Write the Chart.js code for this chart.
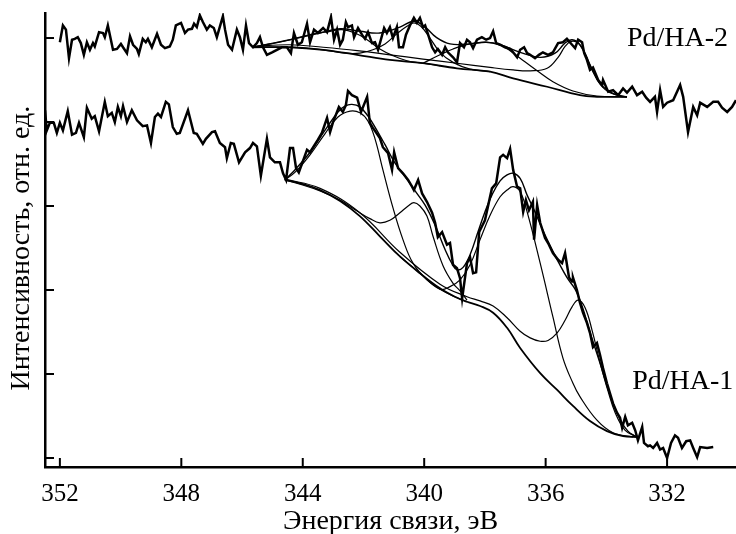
<!DOCTYPE html>
<html>
<head>
<meta charset="utf-8">
<script src="https://cdn.jsdelivr.net/npm/chart.js@4"></script>
<style>
  html, body { margin: 0; padding: 0; background: #fff; }
</style>
</head>
<body>
<canvas id="xps" width="736" height="534"></canvas>
<script>
// Pd 3d spectra, binding energy (eV) vs intensity (arb. units)
const xTicks = [352, 348, 344, 340, 336, 332];
const yTicks = [0, 1, 2, 3, 4, 5];

// Pd/HA-1 measured
const ha1Energy = [
  352.49, 352.43, 352.33, 352.20, 352.10, 352.00, 351.90, 351.74, 351.60, 351.47,
  351.37, 351.21, 351.11, 350.95, 350.85, 350.71, 350.52, 350.42, 350.29, 350.19,
  350.09, 349.99, 349.92, 349.79, 349.63, 349.46, 349.27, 349.13, 349.00, 348.87,
  348.77, 348.67, 348.51, 348.41, 348.28, 348.15, 348.05, 347.78, 347.59, 347.49,
  347.29, 347.19, 346.99, 346.89, 346.73, 346.56, 346.50, 346.37, 346.27, 346.10,
  345.90, 345.74, 345.64, 345.51, 345.38, 345.18, 345.08, 344.92, 344.75, 344.65,
  344.55, 344.42, 344.32, 344.22, 344.13, 343.86, 343.76, 343.50, 343.37, 343.20,
  343.10, 343.01, 342.81, 342.68, 342.58, 342.51, 342.38, 342.21, 342.08, 341.88,
  341.79, 341.69, 341.46, 341.36, 341.19, 341.06, 340.99, 340.86, 340.70, 340.53,
  340.40, 340.34, 340.20, 340.07, 339.91, 339.74, 339.64, 339.55, 339.41, 339.25,
  339.15, 339.05, 338.92, 338.82, 338.75, 338.59, 338.49, 338.39, 338.29, 338.19,
  338.00, 337.77, 337.63, 337.50, 337.40, 337.27, 337.17, 337.07, 336.94, 336.84,
  336.74, 336.65, 336.55, 336.42, 336.38, 336.28, 336.18, 336.02, 335.92, 335.76,
  335.59, 335.46, 335.36, 335.23, 335.13, 335.10, 334.97, 334.87, 334.77, 334.64,
  334.54, 334.44, 334.31, 334.21, 334.11, 333.98, 333.88, 333.78, 333.65, 333.55,
  333.48, 333.38, 333.29, 333.15, 333.05, 332.96, 332.82, 332.76, 332.63, 332.56,
  332.46, 332.33, 332.23, 332.13, 332.00, 331.87, 331.74, 331.64, 331.51, 331.37,
  331.24, 331.14, 331.01, 330.91, 330.68, 330.48
];
const ha1Counts = [
  4.14, 3.90, 3.99, 3.99, 3.87, 3.99, 3.90, 4.13, 3.85, 3.87,
  3.99, 3.82, 4.17, 4.04, 4.07, 3.89, 4.24, 4.07, 4.11, 4.00,
  4.18, 4.07, 4.19, 4.00, 4.14, 4.02, 3.95, 3.96, 3.75, 4.06,
  4.10, 4.06, 4.24, 4.21, 3.94, 3.86, 3.87, 4.14, 3.87, 3.86,
  3.74, 3.80, 3.88, 3.89, 3.75, 3.70, 3.57, 3.75, 3.74, 3.52,
  3.64, 3.69, 3.75, 3.71, 3.36, 3.80, 3.58, 3.52, 3.52, 3.39,
  3.31, 3.69, 3.69, 3.45, 3.40, 3.67, 3.64, 3.79, 3.87, 4.05,
  3.88, 3.99, 4.18, 4.12, 4.20, 4.37, 4.32, 4.29, 4.12, 4.30,
  3.99, 3.93, 3.81, 3.70, 3.63, 3.43, 3.64, 3.45, 3.39, 3.31,
  3.23, 3.19, 3.31, 3.15, 3.05, 2.92, 2.80, 2.63, 2.69, 2.54,
  2.56, 2.30, 2.26, 2.14, 1.90, 2.32, 2.39, 2.20, 2.21, 2.69,
  2.83, 3.21, 3.27, 3.58, 3.61, 3.57, 3.68, 3.43, 3.23, 3.21,
  2.93, 3.07, 2.95, 3.05, 2.60, 3.01, 2.80, 2.62, 2.56, 2.44,
  2.36, 2.32, 2.44, 2.15, 2.10, 2.15, 2.00, 1.85, 1.73, 1.61,
  1.49, 1.32, 1.37, 1.23, 1.07, 0.89, 0.77, 0.65, 0.54, 0.48,
  0.36, 0.49, 0.39, 0.42, 0.33, 0.21, 0.37, 0.18, 0.14, 0.15,
  0.12, 0.18, 0.10, 0.12, 0.00, 0.18, 0.27, 0.24, 0.12, 0.20,
  0.21, 0.12, 0.01, 0.13, 0.12, 0.13
];

// Pd/HA-1 fit: background, components, envelope
const ha1BgEnergy = [344.59, 344.09, 343.43, 342.77, 342.12, 341.46, 340.80, 340.14, 339.48, 338.99, 338.59,
  338.16, 337.73, 337.27, 336.84, 336.18, 335.62, 335.10, 334.54, 333.98, 333.45, 332.99];
const ha1BgCounts = [3.31, 3.27, 3.19, 3.06, 2.88, 2.64, 2.40, 2.20, 2.02, 1.92, 1.86,
  1.81, 1.73, 1.55, 1.31, 1.01, 0.81, 0.62, 0.44, 0.32, 0.26, 0.25];

const ha1P1Energy = [344.59, 344.26, 343.76, 343.27, 342.84, 342.44, 342.12, 341.85, 341.62, 341.36, 341.03,
  340.70, 340.37, 339.91, 339.48, 338.99, 338.59];
const ha1P1Counts = [3.31, 3.40, 3.61, 3.86, 4.06, 4.13, 4.11, 4.01, 3.80, 3.43, 2.98,
  2.60, 2.32, 2.12, 2.01, 1.92, 1.86];

const ha1P2Energy = [344.59, 344.09, 343.43, 342.77, 342.21, 341.79, 341.46, 341.13, 340.80, 340.53, 340.34,
  340.14, 339.91, 339.71, 339.38, 339.05, 338.82, 338.59];
const ha1P2Counts = [3.31, 3.26, 3.18, 3.07, 2.94, 2.85, 2.80, 2.83, 2.92, 3.00, 3.04,
  3.00, 2.88, 2.64, 2.29, 2.08, 1.99, 1.88];

const ha1P3Energy = [340.80, 340.14, 339.48, 339.15, 338.82, 338.49, 338.16, 337.83, 337.50, 337.27, 337.07,
  336.84, 336.61, 336.18, 335.76, 335.43, 335.10, 334.87, 334.31, 333.78, 333.12];
const ha1P3Counts = [2.40, 2.20, 2.01, 2.04, 2.12, 2.30, 2.60, 2.89, 3.11, 3.19, 3.23,
  3.17, 2.93, 2.32, 1.68, 1.19, 0.89, 0.73, 0.45, 0.30, 0.25];

const ha1P4Energy = [344.59, 343.43, 342.12, 340.80, 339.48, 338.59, 338.16, 337.73, 337.27, 336.84, 336.51,
  336.18, 335.92, 335.62, 335.36, 335.13, 334.93, 334.70, 334.47, 334.21, 333.94, 333.71, 333.38, 332.99];
const ha1P4Counts = [3.32, 3.21, 2.92, 2.45, 2.07, 1.92, 1.87, 1.81, 1.67, 1.51, 1.43,
  1.39, 1.40, 1.49, 1.64, 1.80, 1.88, 1.79, 1.52, 1.14, 0.79, 0.54, 0.33, 0.25];

const ha1SumEnergy = [344.59, 344.26, 343.76, 343.27, 342.84, 342.61, 342.38, 342.12, 341.85, 341.62, 341.29,
  340.96, 340.63, 340.30, 339.97, 339.64, 339.31, 339.08, 338.92, 338.72, 338.49, 338.23, 338.00, 337.77,
  337.50, 337.27, 337.07, 336.84, 336.61, 336.35, 336.09, 335.76, 335.30, 335.03, 334.80, 334.54, 334.21,
  333.88, 333.55, 333.29, 332.99];
const ha1SumCounts = [3.31, 3.43, 3.64, 3.90, 4.12, 4.19, 4.21, 4.18, 4.07, 3.94, 3.73,
  3.51, 3.35, 3.18, 3.01, 2.77, 2.48, 2.31, 2.24, 2.27, 2.42, 2.69, 2.93, 3.13,
  3.30, 3.37, 3.39, 3.33, 3.13, 2.93, 2.71, 2.46, 2.15, 2.01, 1.81, 1.50, 1.13,
  0.75, 0.46, 0.32, 0.25];

// Pd/HA-2 measured
const ha2Energy = [
  352.00, 351.90, 351.80, 351.70, 351.60, 351.51, 351.41, 351.31, 351.21, 351.11,
  351.01, 350.91, 350.85, 350.71, 350.58, 350.52, 350.42, 350.25, 350.12, 349.99,
  349.92, 349.79, 349.69, 349.59, 349.46, 349.40, 349.27, 349.17, 349.10, 348.97,
  348.80, 348.67, 348.54, 348.38, 348.28, 348.18, 348.01, 347.88, 347.78, 347.65,
  347.58, 347.49, 347.39, 347.29, 347.16, 347.06, 346.93, 346.83, 346.63, 346.56,
  346.46, 346.33, 346.17, 346.07, 345.97, 345.87, 345.77, 345.64, 345.51, 345.41,
  345.31, 345.18, 345.01, 344.85, 344.69, 344.52, 344.39, 344.29, 344.16, 344.03,
  343.86, 343.76, 343.63, 343.50, 343.33, 343.20, 343.07, 342.97, 342.87, 342.77,
  342.68, 342.58, 342.51, 342.38, 342.31, 342.18, 342.05, 341.95, 341.85, 341.72,
  341.62, 341.52, 341.32, 341.23, 341.13, 341.03, 340.90, 340.83, 340.70, 340.60,
  340.47, 340.34, 340.24, 340.14, 340.04, 339.97, 339.87, 339.74, 339.64, 339.55,
  339.41, 339.31, 339.22, 339.05, 338.92, 338.82, 338.69, 338.59, 338.49, 338.39,
  338.26, 338.10, 337.96, 337.83, 337.73, 337.63, 337.50, 337.34, 337.17, 337.07,
  336.94, 336.84, 336.71, 336.61, 336.51, 336.35, 336.22, 336.09, 335.92, 335.76,
  335.59, 335.43, 335.30, 335.13, 335.03, 334.93, 334.80, 334.73, 334.64, 334.54,
  334.44, 334.27, 334.14, 334.11, 333.94, 333.78, 333.61, 333.45, 333.32, 333.15,
  332.99, 332.82, 332.69, 332.56, 332.40, 332.33, 332.23, 332.13, 332.00, 331.80,
  331.57, 331.47, 331.31, 331.14, 331.01, 330.91, 330.68, 330.48, 330.32, 330.19,
  330.02, 329.86, 329.73
];
const ha2Counts = [
  4.95, 5.15, 5.10, 4.76, 4.98, 4.99, 5.01, 4.94, 4.80, 4.95,
  4.86, 4.94, 4.90, 5.07, 5.06, 5.01, 5.15, 4.86, 4.87, 4.93,
  4.89, 4.82, 5.02, 4.92, 4.87, 4.81, 4.99, 4.95, 4.99, 4.89,
  5.05, 4.92, 4.88, 4.90, 4.98, 5.15, 5.18, 5.06, 5.10, 5.11,
  5.17, 5.13, 5.27, 5.19, 5.10, 5.15, 5.12, 5.01, 5.26, 5.10,
  4.92, 4.86, 5.10, 5.01, 4.86, 5.15, 4.94, 4.89, 4.94, 5.01,
  4.89, 4.80, 4.83, 4.86, 4.89, 4.89, 4.82, 5.06, 4.92, 4.95,
  5.17, 4.95, 5.10, 5.06, 5.12, 5.07, 5.25, 4.98, 5.10, 4.92,
  4.98, 5.19, 5.13, 5.15, 5.01, 5.12, 5.04, 4.99, 5.07, 4.94,
  4.95, 4.86, 5.12, 5.06, 5.13, 5.00, 5.13, 4.89, 4.89, 5.04,
  5.15, 5.24, 5.18, 5.24, 5.13, 5.15, 5.04, 4.89, 4.83, 4.87,
  4.80, 4.89, 4.83, 4.77, 4.71, 4.94, 4.89, 4.98, 4.95, 4.88,
  4.98, 5.01, 4.98, 5.00, 5.08, 4.94, 4.92, 4.89, 4.87, 4.83,
  4.77, 4.86, 4.89, 4.82, 4.80, 4.76, 4.80, 4.83, 4.80, 4.83,
  4.94, 4.95, 4.99, 4.92, 4.88, 4.98, 4.95, 4.82, 4.74, 4.62,
  4.65, 4.50, 4.44, 4.50, 4.36, 4.38, 4.32, 4.40, 4.35, 4.42,
  4.32, 4.36, 4.29, 4.24, 4.30, 4.12, 4.38, 4.18, 4.23, 4.26,
  4.44, 4.30, 3.88, 4.18, 4.08, 4.23, 4.18, 4.24, 4.24, 4.17,
  4.12, 4.18, 4.26
];

// Pd/HA-2 fit
const ha2BgEnergy = [345.64, 344.42, 343.33, 342.21, 341.13, 340.04, 338.92, 337.83, 337.07, 335.95,
  334.87, 334.31, 333.78, 333.32];
const ha2BgCounts = [4.89, 4.89, 4.86, 4.80, 4.74, 4.70, 4.64, 4.60, 4.52, 4.42,
  4.32, 4.30, 4.30, 4.30];

const ha2P1Energy = [345.64, 345.08, 344.42, 343.76, 343.10, 342.71, 342.28, 341.88, 341.46, 341.03, 340.57, 340.04, 339.48];
const ha2P1Counts = [4.89, 4.93, 4.98, 5.04, 5.08, 5.10, 5.06, 4.98, 4.87, 4.79, 4.73, 4.70, 4.67];

const ha2P2Energy = [345.64, 344.42, 343.33, 342.61, 342.12, 341.69, 341.29, 340.90, 340.57, 340.34, 340.11,
  339.81, 339.48, 339.05, 338.49, 337.83];
const ha2P2Counts = [4.89, 4.89, 4.86, 4.82, 4.82, 4.86, 4.93, 5.05, 5.14, 5.18, 5.14,
  5.00, 4.83, 4.71, 4.63, 4.60];

const ha2P3Energy = [340.04, 339.48, 339.05, 338.49, 337.93, 337.50, 337.17, 336.84, 336.28, 335.76, 335.10, 334.31, 333.32];
const ha2P3Counts = [4.70, 4.80, 4.87, 4.93, 4.95, 4.92, 4.85, 4.76, 4.61, 4.48, 4.37, 4.31, 4.30];

const ha2P4Energy = [345.64, 344.42, 343.33, 342.21, 341.13, 340.04, 338.92, 337.83, 337.07, 336.51, 335.95,
  335.59, 335.36, 335.16, 334.93, 334.70, 334.47, 334.21, 333.88, 333.32];
const ha2P4Counts = [4.90, 4.92, 4.89, 4.85, 4.80, 4.75, 4.70, 4.65, 4.62, 4.61, 4.64,
  4.77, 4.90, 4.96, 4.94, 4.82, 4.62, 4.45, 4.35, 4.30];

const ha2SumEnergy = [345.64, 344.42, 343.43, 342.77, 342.12, 341.46, 340.80, 340.34, 339.97, 339.61, 339.15,
  338.49, 337.96, 337.50, 336.84, 336.18, 335.69, 335.36, 335.13, 334.87, 334.54, 334.21, 333.88, 333.55, 333.32];
const ha2SumCounts = [4.89, 4.98, 5.06, 5.11, 5.08, 5.06, 5.13, 5.20, 5.13, 5.01, 4.93,
  4.93, 4.95, 4.92, 4.83, 4.77, 4.82, 4.94, 4.98, 4.92, 4.68, 4.46, 4.36, 4.31, 4.30];

const sampleNames = ['Pd/HA-2', 'Pd/HA-1'];

const font = 'Liberation Serif';
const ink = '#000';

function series(label, xs, ys, width, tension) {
  return {
    label,
    data: xs.map((x, i) => ({ x, y: ys[i] })),
    borderColor: ink,
    borderWidth: width,
    pointRadius: 0,
    tension,
    fill: false,
  };
}

// tick marks point into the plot, plus the sample names and the y title
const decorations = {
  id: 'decorations',
  afterDraw(chart) {
    const { ctx, chartArea } = chart;
    const xs = chart.scales.x, ys = chart.scales.y;
    ctx.save();
    ctx.strokeStyle = ink;
    ctx.lineWidth = 2;
    xTicks.forEach((v) => {
      const px = xs.getPixelForValue(v);
      ctx.beginPath();
      ctx.moveTo(px, chartArea.bottom);
      ctx.lineTo(px, chartArea.bottom - 9);
      ctx.stroke();
    });
    yTicks.forEach((v) => {
      const py = ys.getPixelForValue(v);
      ctx.beginPath();
      ctx.moveTo(chartArea.left, py);
      ctx.lineTo(chartArea.left + 9, py);
      ctx.stroke();
    });

    ctx.fillStyle = ink;
    ctx.font = '28px "' + font + '"';
    ctx.textBaseline = 'alphabetic';
    ctx.textAlign = 'left';
    ctx.fillText(sampleNames[0], xs.getPixelForValue(333.32), ys.getPixelForValue(4.90));
    ctx.fillText(sampleNames[1], xs.getPixelForValue(333.15), ys.getPixelForValue(0.82));

    ctx.translate(22, ys.getPixelForValue(2.5));
    ctx.rotate(-Math.PI / 2);
    ctx.textAlign = 'center';
    ctx.textBaseline = 'middle';
    ctx.font = '28px "' + font + '"';
    ctx.fillText('Интенсивность, отн. ед.', 0, 0);
    ctx.restore();
  },
};

new Chart(document.getElementById('xps'), {
  type: 'line',
  data: {
    datasets: [
      series('HA-1', ha1Energy, ha1Counts, 2.5, 0),
      series('HA-1 background', ha1BgEnergy, ha1BgCounts, 1.8, 0.4),
      series('HA-1 peak 1', ha1P1Energy, ha1P1Counts, 1.2, 0.4),
      series('HA-1 peak 2', ha1P2Energy, ha1P2Counts, 1.2, 0.4),
      series('HA-1 peak 3', ha1P3Energy, ha1P3Counts, 1.2, 0.4),
      series('HA-1 peak 4', ha1P4Energy, ha1P4Counts, 1.2, 0.4),
      series('HA-1 fit', ha1SumEnergy, ha1SumCounts, 1.4, 0.4),
      series('HA-2', ha2Energy, ha2Counts, 2.5, 0),
      series('HA-2 background', ha2BgEnergy, ha2BgCounts, 1.8, 0.4),
      series('HA-2 peak 1', ha2P1Energy, ha2P1Counts, 1.2, 0.4),
      series('HA-2 peak 2', ha2P2Energy, ha2P2Counts, 1.2, 0.4),
      series('HA-2 peak 3', ha2P3Energy, ha2P3Counts, 1.2, 0.4),
      series('HA-2 peak 4', ha2P4Energy, ha2P4Counts, 1.2, 0.4),
      series('HA-2 fit', ha2SumEnergy, ha2SumCounts, 1.4, 0.4),
    ],
  },
  options: {
    responsive: false,
    animation: false,
    devicePixelRatio: 1,
    layout: { padding: { top: 13, right: 0, left: 0, bottom: 0 } },
    plugins: { legend: { display: false }, tooltip: { enabled: false } },
    scales: {
      x: {
        type: 'linear',
        reverse: true,
        min: 329.73,
        max: 352.49,
        afterBuildTicks: (s) => { s.ticks = xTicks.map((v) => ({ value: v })); },
        afterFit: (s) => { s.height = 67; },
        grid: { display: false, drawTicks: false },
        border: { display: true, color: ink, width: 2.5 },
        ticks: { color: ink, font: { family: font, size: 25 }, padding: 12, maxRotation: 0 },
        title: {
          display: true,
          text: 'Энергия связи, эВ',
          color: ink,
          font: { family: font, size: 28, lineHeight: 0.9 },
          padding: { top: 0, bottom: 0 },
        },
      },
      y: {
        min: -0.107,
        max: 5.298,
        afterFit: (s) => { s.width = 45; },
        grid: { display: false, drawTicks: false },
        border: { display: true, color: ink, width: 2.5 },
        ticks: { display: false },
      },
    },
  },
  plugins: [decorations],
});
</script>
</body>
</html>
